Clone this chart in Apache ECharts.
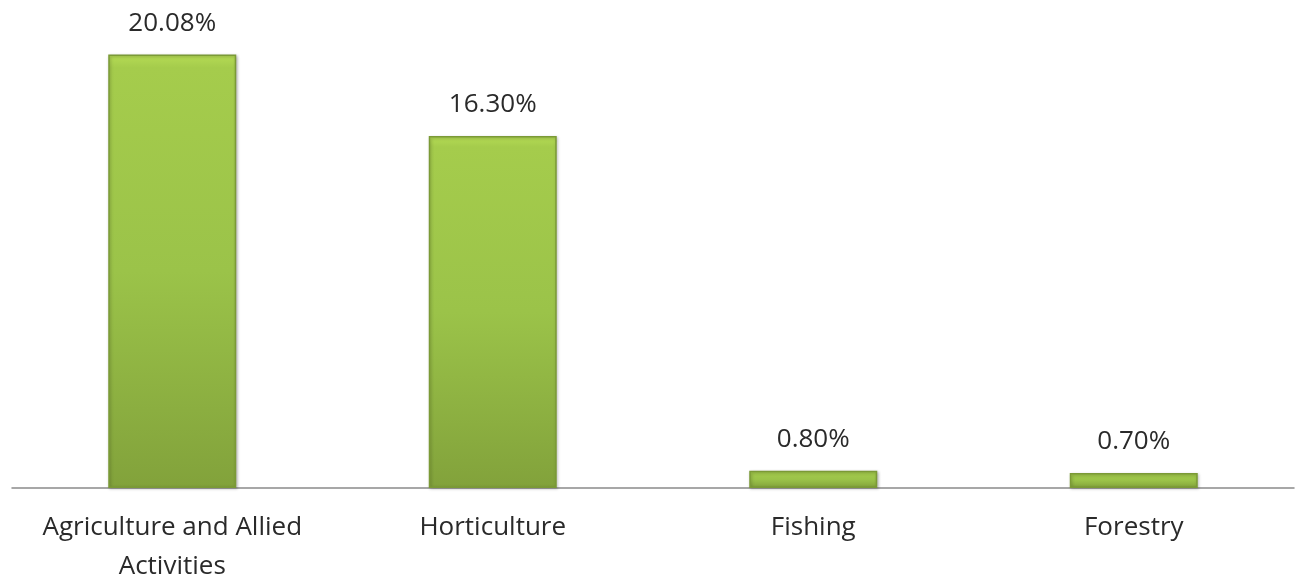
<!DOCTYPE html>
<html>
<head>
<meta charset="utf-8">
<script src="https://cdn.jsdelivr.net/npm/echarts@6/dist/echarts.min.js"></script>
<style>
  html, body { margin: 0; padding: 0; background: #fff; }
  #chart { width: 1298px; height: 583px; }
</style>
</head>
<body>
<div id="chart"></div>
<script>
var categories = ['Agriculture and Allied\nActivities', 'Horticulture', 'Fishing', 'Forestry'];
var shares = [20.08, 16.30, 0.80, 0.70];

var myChart = echarts.init(document.getElementById('chart'));
myChart.setOption({
    backgroundColor: '#ffffff',
    animation: false,
    grid: { left: 12, right: 4, top: 13, bottom: 95, outerBoundsMode: 'none' },
    xAxis: {
        type: 'category',
        data: categories,
        axisTick: { show: false },
        axisLine: { lineStyle: { color: '#8a8a8a', width: 1.5 } },
        axisLabel: {
            interval: 0,
            color: '#2a2a2a',
            fontFamily: 'Open Sans',
            fontSize: 26,
            lineHeight: 39,
            margin: 20
        }
    },
    yAxis: {
        type: 'value',
        min: 0,
        max: 22,
        show: false,
        splitLine: { show: false }
    },
    series: [{
        type: 'bar',
        data: shares,
        barWidth: 128,
        itemStyle: {
            color: new echarts.graphic.LinearGradient(0, 0, 0, 1, [
                { offset: 0, color: '#b6dc55' },
                { offset: 0.03, color: '#a5cc4c' },
                { offset: 0.5, color: '#9bc349' },
                { offset: 1, color: '#82a23b' }
            ]),
            borderColor: '#7b9a36',
            borderWidth: 1.5,
            shadowColor: 'rgba(0,0,0,0.25)',
            shadowBlur: 3,
            shadowOffsetX: 1,
            shadowOffsetY: 1
        },
        label: {
            show: true,
            position: 'top',
            distance: 18,
            color: '#2a2a2a',
            fontFamily: 'Open Sans',
            fontSize: 26,
            formatter: function (p) { return p.value.toFixed(2) + '%'; }
        }
    }]
});
</script>
</body>
</html>
